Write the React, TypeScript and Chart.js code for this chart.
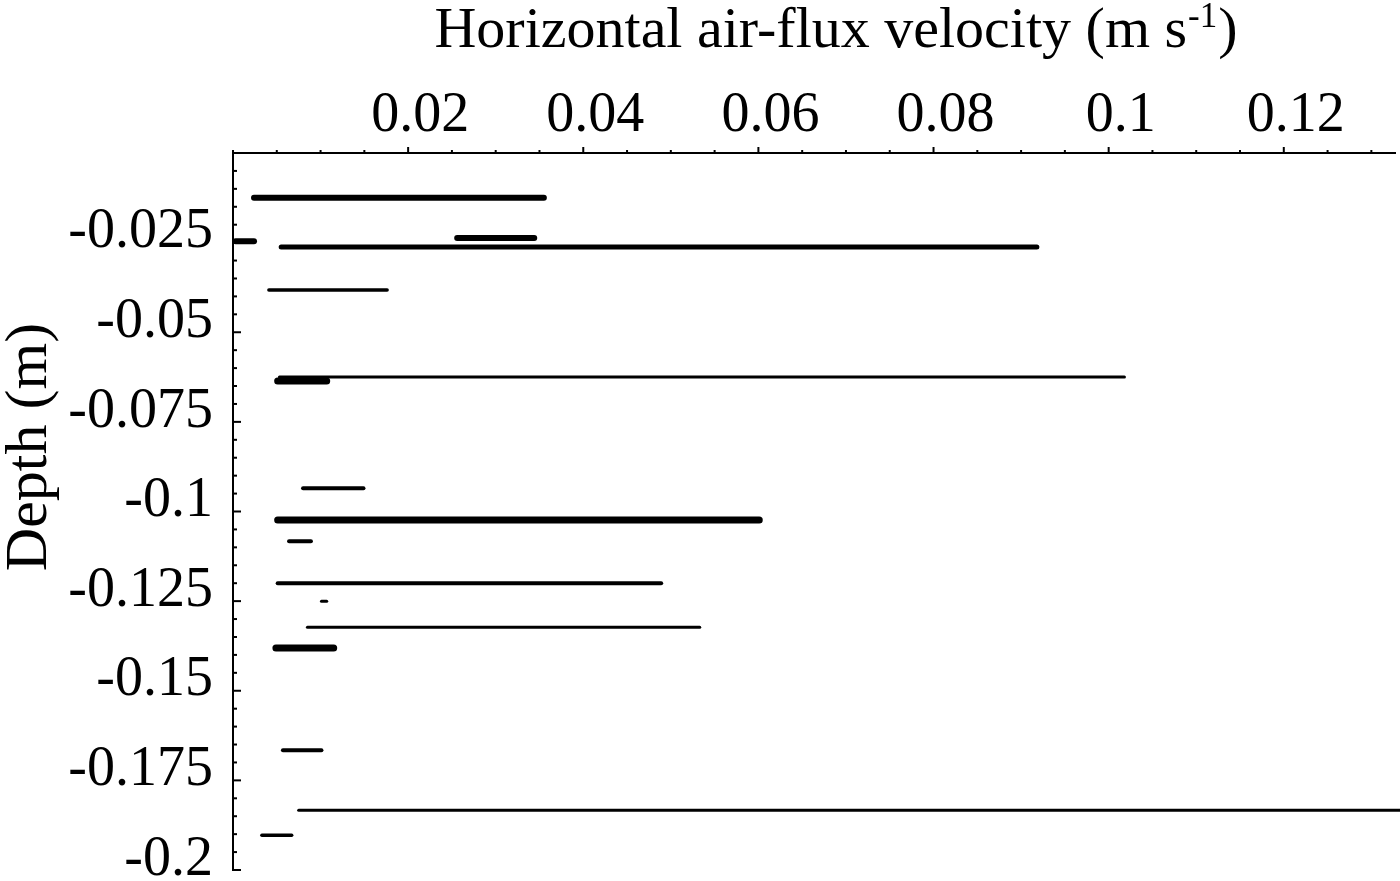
import React, { useEffect, useRef } from 'react';
import { Chart, registerables } from 'chart.js';

Chart.register(...registerables);

// Depth (m) of each horizontal segment
const DEPTHS = [
  -0.0125, -0.0237, -0.0246, -0.0262, -0.0382, -0.0625, -0.0636, -0.0935, -0.1024,
  -0.1083, -0.12, -0.125, -0.1323, -0.1381, -0.1666, -0.1833, -0.1903,
];
// Horizontal air-flux velocity range (m s-1): start and end of each segment
const VEL_START = [
  0.0024, 0.0256, 0.0003, 0.0055, 0.0041, 0.0053, 0.0051, 0.008, 0.0051,
  0.0064, 0.0051, 0.0101, 0.0085, 0.0049, 0.0057, 0.0075, 0.0033,
];
const VEL_END = [
  0.0355, 0.0344, 0.0024, 0.0918, 0.0176, 0.1018, 0.0107, 0.0149, 0.0601,
  0.0089, 0.0489, 0.0107, 0.0533, 0.0115, 0.0101, 0.14, 0.0067,
];
// Stroke weight of each segment (style)
const SEG_WIDTHS = [6, 6, 6, 5, 3.5, 3, 7, 4, 7, 4, 4, 3, 3, 7, 4, 3, 3.5];

const X_TICK_VALUES = [0.02, 0.04, 0.06, 0.08, 0.1, 0.12];
const X_TICK_LABELS = ['0.02', '0.04', '0.06', '0.08', '0.1', '0.12'];
const Y_TICK_VALUES = [-0.025, -0.05, -0.075, -0.1, -0.125, -0.15, -0.175, -0.2];
const Y_TICK_LABELS = ['-0.025', '-0.05', '-0.075', '-0.1', '-0.125', '-0.15', '-0.175', '-0.2'];

const X_TITLE_MAIN = 'Horizontal air-flux velocity (m s';
const X_TITLE_SUP = '-1';
const X_TITLE_END = ')';
const Y_TITLE = 'Depth (m)';

const FONT = 'Liberation Serif';

function lookup(values: number[], labels: string[], v: number): string {
  for (let i = 0; i < values.length; i++) {
    if (Math.abs(values[i] - v) < 1e-9) return labels[i];
  }
  return '';
}

const decorPlugin = {
  id: 'decor',
  afterDraw(chart: any) {
    const ctx = chart.ctx;
    const area = chart.chartArea;
    const xs = chart.scales.x;
    const ys = chart.scales.y;
    ctx.save();
    ctx.strokeStyle = '#000';
    ctx.lineWidth = 2;
    // x ticks (outward, upward)
    xs.ticks.forEach((t: any) => {
      const px = xs.getPixelForValue(t.value);
      const major = lookup(X_TICK_VALUES, X_TICK_LABELS, t.value) !== '';
      ctx.beginPath();
      ctx.moveTo(px, area.top);
      ctx.lineTo(px, area.top - (major ? 6 : 3));
      ctx.stroke();
    });
    // y ticks (inward, rightward)
    ys.ticks.forEach((t: any) => {
      const py = ys.getPixelForValue(t.value);
      const major = lookup(Y_TICK_VALUES, Y_TICK_LABELS, t.value) !== '';
      ctx.beginPath();
      ctx.moveTo(area.left, py);
      ctx.lineTo(area.left + (major ? 8 : 4), py);
      ctx.stroke();
    });
    // x title with superscript
    ctx.fillStyle = '#000';
    ctx.textBaseline = 'alphabetic';
    ctx.textAlign = 'left';
    const big = `58px "${FONT}"`;
    const small = `35px "${FONT}"`;
    ctx.font = big;
    const w1 = ctx.measureText(X_TITLE_MAIN).width;
    const w3 = ctx.measureText(X_TITLE_END).width;
    ctx.font = small;
    const w2 = ctx.measureText(X_TITLE_SUP).width;
    const total = w1 + w2 + w3 + 2;
    const cx = (area.left + area.right) / 2 + 22;
    let x0 = cx - total / 2;
    const base = 47;
    ctx.font = big;
    ctx.fillText(X_TITLE_MAIN, x0, base);
    x0 += w1 + 1;
    ctx.font = small;
    ctx.fillText(X_TITLE_SUP, x0, base - 20);
    x0 += w2 + 1;
    ctx.font = big;
    ctx.fillText(X_TITLE_END, x0, base);
    // y title rotated
    ctx.save();
    ctx.translate(46, 447);
    ctx.rotate(-Math.PI / 2);
    ctx.textAlign = 'center';
    ctx.font = `60px "${FONT}"`;
    ctx.fillText(Y_TITLE, 0, 0);
    ctx.restore();
    ctx.restore();
  },
};

export default function App() {
  const ref = useRef<HTMLCanvasElement | null>(null);
  useEffect(() => {
    if (!ref.current) return;
    const datasets = DEPTHS.map((d, i) => ({
      data: [
        { x: VEL_START[i], y: d },
        { x: VEL_END[i], y: d },
      ],
      borderColor: '#000',
      backgroundColor: '#000',
      borderWidth: SEG_WIDTHS[i],
      borderCapStyle: 'round' as const,
      showLine: true,
      pointRadius: 0,
      pointHoverRadius: 0,
      clip: 10,
    }));
    const chart = new Chart(ref.current, {
      type: 'scatter',
      data: { datasets },
      plugins: [decorPlugin],
      options: {
        animation: false,
        responsive: true,
        maintainAspectRatio: false,
        layout: { padding: { left: 0, right: 5, top: 0, bottom: 11 } },
        plugins: { legend: { display: false }, tooltip: { enabled: false }, title: { display: false } },
        scales: {
          x: {
            type: 'linear',
            position: 'top',
            min: 0,
            max: 0.1327,
            afterFit: (s: any) => {
              s.height = 153;
              s.paddingLeft = 0;
              s.paddingRight = 0;
            },
            border: { display: true, color: '#000', width: 2 },
            grid: { display: true, drawOnChartArea: false, drawTicks: false },
            ticks: {
              stepSize: 0.005,
              includeBounds: false,
              autoSkip: false,
              maxRotation: 0,
              minRotation: 0,
              padding: 3,
              labelOffset: 12,
              color: '#000',
              font: { family: FONT, size: 56 },
              callback: (v: any) => lookup(X_TICK_VALUES, X_TICK_LABELS, Number(v)),
            },
          },
          y: {
            type: 'linear',
            position: 'left',
            min: -0.2,
            max: 0,
            afterFit: (s: any) => {
              s.width = 233;
              s.paddingTop = 0;
              s.paddingBottom = 0;
            },
            border: { display: true, color: '#000', width: 2 },
            grid: { display: true, drawOnChartArea: false, drawTicks: false },
            ticks: {
              stepSize: 0.005,
              includeBounds: false,
              autoSkip: false,
              padding: 20,
              labelOffset: -10,
              color: '#000',
              font: { family: FONT, size: 56 },
              callback: (v: any) => lookup(Y_TICK_VALUES, Y_TICK_LABELS, Number(v)),
            },
          },
        },
      },
    });
    return () => chart.destroy();
  }, []);
  return (
    <div style={{ position: 'fixed', left: 0, top: 0, width: 1400, height: 881, background: '#fff' }}>
      <canvas ref={ref} />
    </div>
  );
}
